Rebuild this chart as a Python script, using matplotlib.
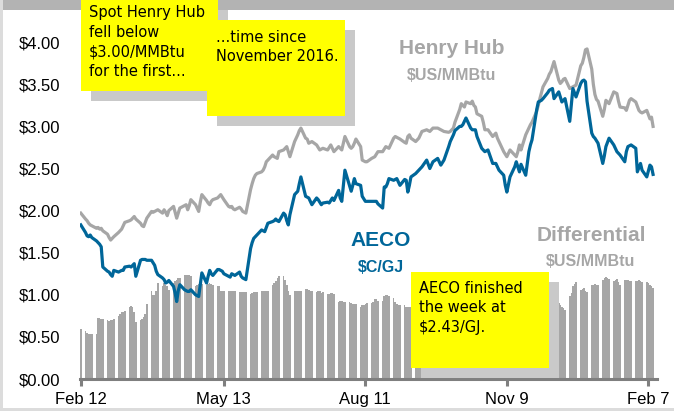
import matplotlib
matplotlib.use("Agg")
import matplotlib.pyplot as plt
from matplotlib.patches import Rectangle
import numpy as np
import pandas as pd

# trading days, Feb 12 2016 .. Feb 10 2017 (one row per week)
start = "2016-02-12"
end = "2017-02-10"

henry_hub = [
    1.97,
    1.90, 1.88, 1.85, 1.83, 1.82,
    1.79, 1.80, 1.78, 1.79, 1.76,
    1.72, 1.68, 1.65, 1.67, 1.69,
    1.74, 1.76, 1.78, 1.82, 1.86,
    1.88, 1.89, 1.91, 1.93, 1.90,
    1.85, 1.82, 1.81, 1.86, 1.91,
    1.99, 1.98, 1.99, 2.00, 2.01,
    1.97, 2.01, 1.98, 1.94, 2.00,
    2.05, 1.98, 1.91, 1.97, 2.03,
    2.06, 2.07, 2.01, 2.06, 2.13,
    2.07, 2.03, 1.99, 2.10, 2.19,
    2.12, 2.09, 2.07, 2.11, 2.13,
    2.15, 2.17, 2.19, 2.16, 2.13,
    2.05, 2.04, 2.05, 2.02, 2.01,
    2.04, 2.02, 1.99, 1.98, 1.97,
    2.25, 2.32, 2.38, 2.42, 2.44,
    2.46, 2.48, 2.52, 2.58, 2.60,
    2.66, 2.64, 2.63, 2.62, 2.70,
    2.72, 2.74, 2.76, 2.70, 2.64,
    2.82, 2.86, 2.90, 2.95, 2.98,
    2.86, 2.85, 2.80, 2.81, 2.82,
    2.78, 2.75, 2.72, 2.73, 2.74,
    2.72, 2.75, 2.78, 2.74, 2.70,
    2.76, 2.74, 2.72, 2.80, 2.88,
    2.76, 2.74, 2.76, 2.80, 2.85,
    2.76, 2.60, 2.59, 2.58, 2.58,
    2.62, 2.63, 2.64, 2.67, 2.70,
    2.70, 2.73, 2.76, 2.75, 2.74,
    2.86, 2.88, 2.87, 2.86, 2.85,
    2.81, 2.80, 2.88, 2.90, 2.86,
    2.82, 2.84, 2.86, 2.90, 2.94,
    2.96, 2.95, 2.94, 2.96, 2.98,
    2.98, 2.97, 2.96, 2.95, 2.94,
    2.93, 2.94, 2.96, 2.98, 3.05,
    3.20, 3.27, 3.25, 3.23, 3.29,
    3.27, 3.30, 3.25, 3.23, 3.15,
    3.12, 3.05, 2.96, 2.96, 2.96,
    2.88, 2.90, 2.92, 2.86, 2.82,
    2.70, 2.67, 2.64, 2.68, 2.72,
    2.66, 2.64, 2.70, 2.78, 2.72,
    2.90, 2.94, 2.98, 3.02, 3.05,
    3.18, 3.25, 3.33, 3.40, 3.47,
    3.57, 3.62, 3.65, 3.71, 3.77,
    3.55, 3.51, 3.53, 3.56, 3.57,
    3.45, 3.46, 3.47, 3.48, 3.49,
    3.72, 3.75, 3.82, 3.91, 3.92,
    3.68, 3.50, 3.38, 3.32, 3.30,
    3.12, 3.20, 3.31, 3.29, 3.27,
    3.41, 3.40, 3.39, 3.30, 3.23,
    3.22, 3.19, 3.25, 3.31, 3.33,
    3.29, 3.24, 3.19, 3.17, 3.16,
    3.19, 3.14, 3.09, 3.11, 3.00,
]

aeco = [
    1.83,
    1.74, 1.70, 1.69, 1.71, 1.68,
    1.64, 1.62, 1.60, 1.57, 1.33,
    1.28, 1.27, 1.24, 1.22, 1.29,
    1.27, 1.28, 1.29, 1.29, 1.33,
    1.34, 1.33, 1.35, 1.37, 1.22,
    1.41, 1.42, 1.42, 1.42, 1.41,
    1.41, 1.38, 1.35, 1.28, 1.24,
    1.20, 1.18, 1.14, 1.15, 1.17,
    1.10, 1.02, 0.92, 1.05, 1.12,
    1.06, 1.05, 1.04, 1.04, 1.06,
    1.00, 0.99, 0.98, 1.12, 1.26,
    1.14, 1.22, 1.29, 1.25, 1.23,
    1.30, 1.30, 1.29, 1.28, 1.25,
    1.22, 1.21, 1.25, 1.24, 1.23,
    1.27, 1.22, 1.20, 1.19, 1.18,
    1.55, 1.62, 1.67, 1.69, 1.71,
    1.77, 1.76, 1.75, 1.80, 1.85,
    1.87, 1.88, 1.90, 1.88, 1.87,
    1.97, 1.95, 1.88, 1.83, 1.95,
    2.19, 2.21, 2.23, 2.32, 2.40,
    2.17, 2.16, 2.15, 2.11, 2.07,
    2.15, 2.13, 2.10, 2.07, 2.09,
    2.10, 2.09, 2.12, 2.15, 2.12,
    2.24, 2.15, 2.11, 2.30, 2.48,
    2.29, 2.23, 2.30, 2.38, 2.32,
    2.30, 2.17, 2.14, 2.11, 2.11,
    2.11, 2.11, 2.11, 2.11, 2.08,
    2.03, 2.28, 2.28, 2.32, 2.38,
    2.36, 2.37, 2.38, 2.34, 2.30,
    2.37, 2.36, 2.22, 2.30, 2.40,
    2.44, 2.46, 2.48, 2.50, 2.52,
    2.60, 2.55, 2.50, 2.54, 2.58,
    2.62, 2.58, 2.54, 2.57, 2.60,
    2.76, 2.82, 2.86, 2.90, 2.95,
    3.00, 3.00, 3.02, 3.06, 3.10,
    2.98, 2.96, 2.96, 2.96, 2.88,
    2.74, 2.72, 2.70, 2.71, 2.72,
    2.56, 2.56, 2.56, 2.52, 2.48,
    2.42, 2.30, 2.22, 2.31, 2.40,
    2.52, 2.58, 2.52, 2.46, 2.55,
    2.42, 2.56, 2.70, 2.78, 2.84,
    3.20, 3.29, 3.30, 3.31, 3.33,
    3.40, 3.43, 3.44, 3.45, 3.33,
    3.41, 3.35, 3.29, 3.31, 3.33,
    3.06, 3.25, 3.45, 3.40, 3.35,
    3.51, 3.54, 3.55, 3.53, 3.30,
    2.92, 2.88, 2.86, 2.83, 2.80,
    2.56, 2.65, 2.76, 2.81, 2.86,
    2.78, 2.74, 2.70, 2.68, 2.66,
    2.58, 2.70, 2.76, 2.77, 2.78,
    2.74, 2.46, 2.51, 2.56, 2.48,
    2.40, 2.47, 2.54, 2.52, 2.43,
]

differential = [
    0.59,
    0.57, 0.55, 0.53, 0.53, 0.53,
    0.53, 0.73, 0.72, 0.71, 0.71,
    0.70, 0.69, 0.70, 0.70, 0.71,
    0.75, 0.77, 0.79, 0.80, 0.81,
    0.86, 0.87, 0.86, 0.80, 0.68,
    0.70, 0.71, 0.74, 0.77, 0.89,
    1.04, 1.00, 1.00, 1.05, 1.14,
    1.10, 1.14, 1.12, 1.10, 1.06,
    1.14, 1.16, 1.18, 1.20, 1.20,
    1.23, 1.24, 1.24, 1.23, 1.22,
    1.10, 1.12, 1.13, 1.13, 1.13,
    1.12, 1.13, 1.14, 1.13, 1.12,
    1.10, 1.10, 1.05, 1.05, 1.05,
    1.05, 1.05, 1.05, 1.04, 1.05,
    1.03, 1.03, 1.03, 1.03, 1.03,
    1.01, 1.02, 1.03, 1.03, 1.03,
    1.05, 1.05, 1.05, 1.05, 1.05,
    1.12, 1.14, 1.16, 1.20, 1.22,
    1.22, 1.18, 1.12, 1.05, 1.00,
    1.05, 1.05, 1.05, 1.05, 1.05,
    1.07, 1.07, 1.06, 1.05, 1.04,
    1.03, 1.04, 1.04, 1.02, 1.03,
    1.01, 1.01, 1.02, 1.02, 1.01,
    0.91, 0.93, 0.93, 0.92, 0.91,
    0.91, 0.90, 0.89, 0.89, 0.89,
    0.86, 0.88, 0.88, 0.89, 0.90,
    0.90, 0.92, 0.95, 0.95, 0.93,
    0.93, 0.98, 1.00, 1.00, 0.98,
    0.96, 0.92, 0.89, 0.88, 0.88,
    0.88, 0.86, 0.86, 0.86, 0.86,
    0.88, 0.89, 0.89, 0.90, 0.90,
    0.91, 0.92, 0.93, 0.92, 0.92,
    0.90, 0.90, 0.91, 0.90, 0.89,
    0.72, 0.70, 0.68, 0.69, 0.70,
    0.82, 0.83, 0.84, 0.83, 0.83,
    0.88, 0.89, 0.90, 0.89, 0.88,
    0.85, 0.84, 0.83, 0.84, 0.84,
    0.86, 0.87, 0.86, 0.85, 0.86,
    0.82, 0.83, 0.84, 0.83, 0.82,
    0.70, 0.71, 0.72, 0.73, 0.72,
    0.86, 0.87, 0.88, 0.89, 0.88,
    0.74, 0.73, 0.75, 0.74, 0.75,
    0.93, 0.95, 0.96, 0.97, 0.98,
    0.90, 0.88, 0.86, 0.84, 0.82,
    0.98, 1.02, 1.10, 1.13, 1.15,
    1.06, 1.07, 1.08, 1.05, 1.03,
    1.12, 1.12, 1.13, 1.12, 1.12,
    1.18, 1.20, 1.21, 1.20, 1.19,
    1.16, 1.17, 1.19, 1.15, 1.12,
    1.18, 1.18, 1.17, 1.16, 1.16,
    1.16, 1.16, 1.17, 1.16, 1.15,
    1.15, 1.14, 1.12, 1.10, 1.08,
]

tick_dates = ["2016-02-12", "2016-05-13", "2016-08-11", "2016-11-09", "2017-02-07"]
tick_labels = ["Feb 12", "May 13", "Aug 11", "Nov 9", "Feb 7"]
yticks = [0, 0.5, 1.0, 1.5, 2.0, 2.5, 3.0, 3.5, 4.0]

GRAY = "#a6a6a6"
BLUE = "#006699"
YELLOW = "#ffff00"
SHADOW = "#c9c9c9"

dates = pd.bdate_range(start, end)
t0 = pd.Timestamp(start)
days = np.array((dates - t0).days)
tick_pos = [(pd.Timestamp(d) - t0).days for d in tick_dates]

W, H = 674, 411
def fx(x):
    return x / W
def fy(y):
    return 1 - y / H

fig = plt.figure(figsize=(6.74, 4.11), dpi=100)
fig.patch.set_facecolor("white")

# slide frame bits
fig.add_artist(Rectangle((0, 0), fx(3), 1, transform=fig.transFigure,
                         color="#dcdcdc", lw=0))
fig.add_artist(Rectangle((fx(3), fy(10)), 1, 10 / H, transform=fig.transFigure,
                         color="#b3b3b3", lw=0))
fig.add_artist(Rectangle((0, 0), 1, 3 / H, transform=fig.transFigure,
                         color="#dcdcdc", lw=0))

ax = fig.add_axes([fx(80), fy(379), 577 / W, 369 / H])
ax.bar(days, differential, width=1.0, color=GRAY, linewidth=0, zorder=1)
ax.plot(days, henry_hub, color=GRAY, lw=2.3, zorder=2, solid_joinstyle="round")
ax.plot(days, aeco, color=BLUE, lw=2.3, zorder=3, solid_joinstyle="round")

ax.set_xlim(-0.5, 366.5)
ax.set_ylim(0, 369 / 84.2)
ax.set_xticks(tick_pos)
ax.set_xticklabels(tick_labels, fontsize=12, family="Liberation Sans")
ax.set_yticks(yticks)
ax.set_yticklabels([f"${v:.2f}" for v in yticks], fontsize=12, family="Liberation Sans")
ax.tick_params(axis="y", length=0, pad=14)
ax.tick_params(axis="x", length=5, width=2.2, color="#7f7f7f", pad=4)
for s in ["top", "right", "left"]:
    ax.spines[s].set_visible(False)
ax.spines["bottom"].set_color("#7f7f7f")
ax.spines["bottom"].set_linewidth(2.2)

# series labels
fig.text(fx(452), fy(49), "Henry Hub", color=GRAY, fontsize=15, fontweight="bold",
         family="Liberation Sans", ha="center", va="center")
fig.text(fx(452), fy(75), "$US/MMBtu", color=GRAY, fontsize=11.5, fontweight="bold",
         family="Liberation Sans", ha="center", va="center")
fig.text(fx(381), fy(240), "AECO", color=BLUE, fontsize=15, fontweight="bold",
         family="Liberation Sans", ha="center", va="center")
fig.text(fx(381), fy(268), "$C/GJ", color=BLUE, fontsize=11.5, fontweight="bold",
         family="Liberation Sans", ha="center", va="center")
fig.text(fx(591), fy(235), "Differential", color=GRAY, fontsize=15, fontweight="bold",
         family="Liberation Sans", ha="center", va="center")
fig.text(fx(591), fy(262), "$US/MMBtu", color=GRAY, fontsize=11.5, fontweight="bold",
         family="Liberation Sans", ha="center", va="center")

# sticky notes: (left, top, right, bottom) in pixels
notes = [
    ((81, 0, 218, 91), ["Spot Henry Hub", "fell below", "$3.00/MMBtu", "for the first..."], (89, 13)),
    ((207, 20, 345, 116), ["...time since", "November 2016."], (216, 37)),
    ((411, 272, 549, 368), ["AECO finished", "the week at", "$2.43/GJ."], (419, 288)),
]
for (l, t, r, b), lines, (tx, ty) in notes:
    fig.add_artist(Rectangle((fx(l + 10), fy(b + 10)), (r - l) / W, (b - t) / H,
                             transform=fig.transFigure, color=SHADOW, lw=0, zorder=5))
    fig.add_artist(Rectangle((fx(l), fy(b)), (r - l) / W, (b - t) / H,
                             transform=fig.transFigure, color=YELLOW, lw=0, zorder=6))
    for i, line in enumerate(lines):
        fig.text(fx(tx), fy(ty + i * 19.5), line, fontsize=10.5, family="DejaVu Sans",
                 ha="left", va="center", color="black", zorder=7)

fig.savefig("out.png", dpi=100)
